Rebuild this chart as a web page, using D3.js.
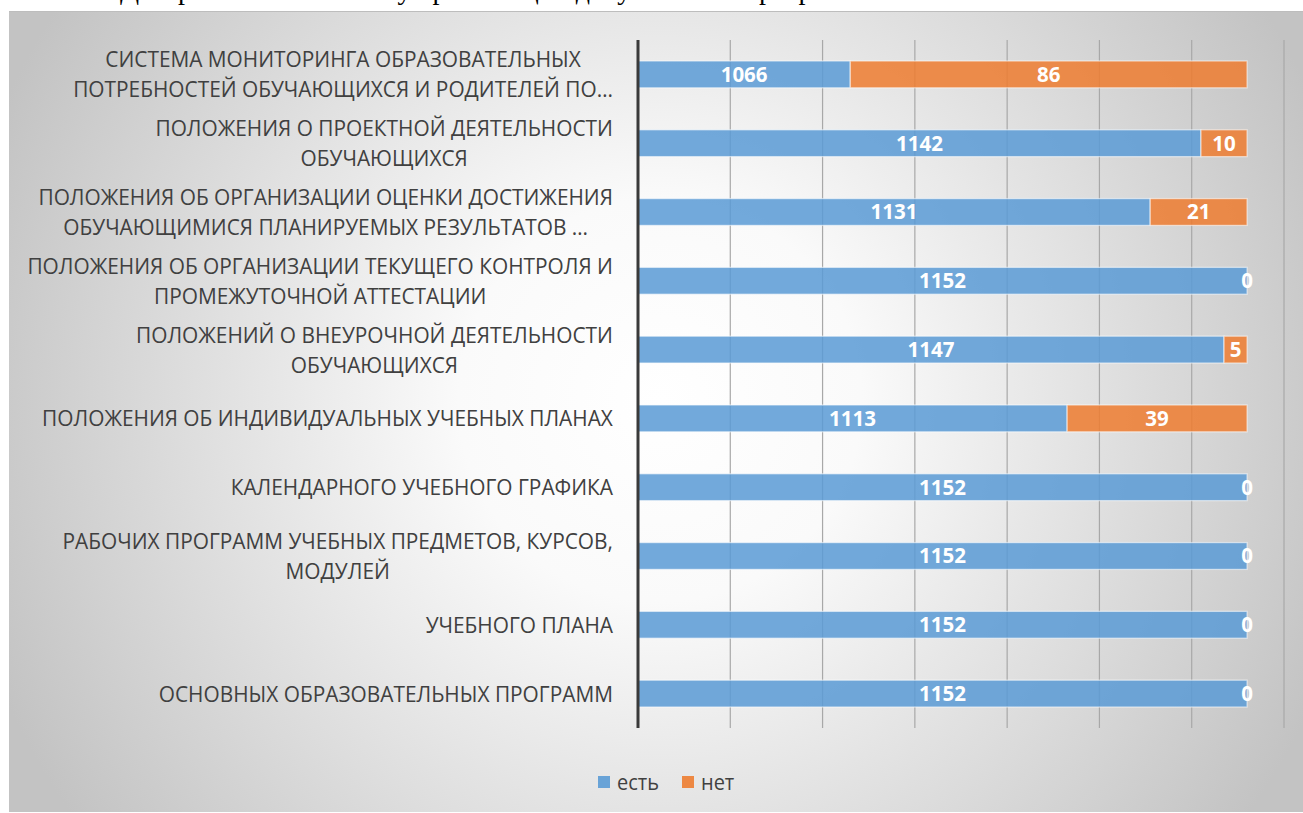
<!DOCTYPE html>
<html><head><meta charset="utf-8">
<script src="https://cdn.jsdelivr.net/npm/d3@7"></script>
<style>html,body{margin:0;padding:0;background:#fff;overflow:hidden}</style>
</head><body>
<svg id="c" width="1303" height="813"></svg>
<script>
const categories = [
  "СИСТЕМА МОНИТОРИНГА ОБРАЗОВАТЕЛЬНЫХ\nПОТРЕБНОСТЕЙ ОБУЧАЮЩИХСЯ И РОДИТЕЛЕЙ ПО…",
  "ПОЛОЖЕНИЯ О ПРОЕКТНОЙ ДЕЯТЕЛЬНОСТИ\nОБУЧАЮЩИХСЯ",
  "ПОЛОЖЕНИЯ ОБ ОРГАНИЗАЦИИ ОЦЕНКИ ДОСТИЖЕНИЯ\nОБУЧАЮЩИМИСЯ ПЛАНИРУЕМЫХ РЕЗУЛЬТАТОВ …",
  "ПОЛОЖЕНИЯ ОБ ОРГАНИЗАЦИИ ТЕКУЩЕГО КОНТРОЛЯ И\nПРОМЕЖУТОЧНОЙ АТТЕСТАЦИИ",
  "ПОЛОЖЕНИЙ О ВНЕУРОЧНОЙ ДЕЯТЕЛЬНОСТИ\nОБУЧАЮЩИХСЯ",
  "ПОЛОЖЕНИЯ ОБ ИНДИВИДУАЛЬНЫХ УЧЕБНЫХ ПЛАНАХ",
  "КАЛЕНДАРНОГО УЧЕБНОГО ГРАФИКА",
  "РАБОЧИХ ПРОГРАММ УЧЕБНЫХ ПРЕДМЕТОВ, КУРСОВ,\nМОДУЛЕЙ",
  "УЧЕБНОГО ПЛАНА",
  "ОСНОВНЫХ ОБРАЗОВАТЕЛЬНЫХ ПРОГРАММ"
];
const yesValues = [1066, 1142, 1131, 1152, 1147, 1113, 1152, 1152, 1152, 1152];
const noValues  = [86, 10, 21, 0, 5, 39, 0, 0, 0, 0];
const seriesNames = ["есть", "нет"];
const xTicks = [1020, 1040, 1060, 1080, 1100, 1120, 1140, 1160];
const titleText = "Диаграмма 4. Наличие у организаций документов и программ";

const W = 1303, H = 813;
const svg = d3.select("#c");
const defs = svg.append("defs");
const rg = defs.append("radialGradient").attr("id","bg")
  .attr("gradientUnits","userSpaceOnUse").attr("cx",660).attr("cy",400).attr("r",720);
rg.append("stop").attr("offset","0").attr("stop-color","#ffffff");
rg.append("stop").attr("offset","0.28").attr("stop-color","#fafafa");
rg.append("stop").attr("offset","1").attr("stop-color","#c3c3c3");

// cropped title line above the panel (cut by the top edge as in the source)
svg.append("text").attr("x",120).attr("y",-1)
  .attr("font-family","Liberation Serif, serif").attr("font-size",28).attr("fill","#000")
  .text(titleText);

svg.append("rect").attr("x",9).attr("y",11).attr("width",W-9).attr("height",H-12)
  .attr("fill","#bdbdbd");
svg.append("rect").attr("x",9).attr("y",12).attr("width",W-9).attr("height",H-13)
  .attr("fill","url(#bg)");

const labelFont = "'Open Sans', 'Liberation Sans', sans-serif";
const x = d3.scaleLinear().domain([1020,1160]).range([638,1284]).clamp(true);
const y = d3.scaleBand().domain(d3.range(categories.length)).range([40,728]).paddingInner(0.61).paddingOuter(0.305);

function measure(txt, size, weight){
  const t = svg.append("text").attr("font-family",labelFont).attr("font-size",size)
    .attr("font-weight",weight||"normal").text(txt);
  const w = t.node().getComputedTextLength(); t.remove(); return w;
}
const catSize = 22.5;
const catSx = 571 / measure(categories[5], catSize);
const valSize = 20 * 47 / measure("1152", 20, "bold");
const legSize = 21;
const legSx = 42 / measure(seriesNames[0], legSize);

// gridlines
const g = svg.append("g");
g.selectAll("line.grid").data(xTicks.slice(1)).join("line")
  .attr("x1",d=>x(d)).attr("x2",d=>x(d)).attr("y1",40).attr("y2",728)
  .attr("stroke","#a8a8a8").attr("stroke-width",1.2);

// stacked bars
const rows = categories.map((c,i)=>({i, yes:yesValues[i], no:noValues[i]}));
const stack = d3.stack().keys(["yes","no"]);
const layers = stack(rows);
const colors = ["#5b9bd5","#ed7d31"];
layers.forEach((layer,k)=>{
  svg.append("g").selectAll("rect").data(layer).join("rect")
    .attr("x",d=>x(d[0])).attr("width",d=>Math.max(0,x(d[1])-x(d[0])))
    .attr("y",d=>y(d.data.i)).attr("height",y.bandwidth())
    .attr("fill",colors[k]).attr("fill-opacity",0.86)
    .attr("stroke","#ffffff").attr("stroke-opacity",0.55).attr("stroke-width",1.3);
});
layers.forEach((layer,k)=>{
  svg.append("g").selectAll("text").data(layer).join("text")
    .attr("x",d=>(x(d[0])+x(d[1]))/2).attr("y",d=>y(d.data.i)+y.bandwidth()/2)
    .attr("dy","0.36em").attr("text-anchor","middle")
    .attr("font-family",labelFont).attr("font-weight","bold").attr("font-size",valSize)
    .attr("fill","#ffffff")
    .text(d=>d[1]-d[0]);
});

// axis line
const axis = d3.axisLeft(y).tickSize(0).tickFormat("");
const ag = svg.append("g").attr("transform","translate(638,0)").call(axis);
ag.select(".domain").attr("d","M0,40V728").attr("stroke","#3a3a3a").attr("stroke-width",3);

// category labels (horizontally condensed to mimic the narrow source face)
const lab = svg.append("g").attr("font-family",labelFont).attr("font-size",catSize).attr("fill","#404040");
categories.forEach((c,i)=>{
  const lines = c.split("\n");
  const widths = lines.map(l=>measure(l,catSize)*catSx);
  const cx = 613 - d3.max(widths)/2;
  const cy = y(i)+y.bandwidth()/2;
  const t = lab.append("text").attr("text-anchor","middle")
    .attr("transform",`translate(${cx},0) scale(${catSx},1)`);
  lines.forEach((l,j)=>{
    t.append("tspan").attr("x",0).attr("y",cy + (j-(lines.length-1)/2)*30).attr("dy","0.36em").text(l);
  });
});

// legend
const lg = svg.append("g").attr("font-family",labelFont).attr("font-size",legSize).attr("fill","#404040");
const legX = [598, 682];
seriesNames.forEach((s,k)=>{
  lg.append("rect").attr("x",legX[k]).attr("y",776).attr("width",12).attr("height",12)
    .attr("fill",colors[k]).attr("fill-opacity",0.9);
  lg.append("text").attr("transform",`translate(${legX[k]+19},782) scale(${legSx},1)`)
    .attr("dy","0.36em").text(s);
});
</script>
</body></html>
